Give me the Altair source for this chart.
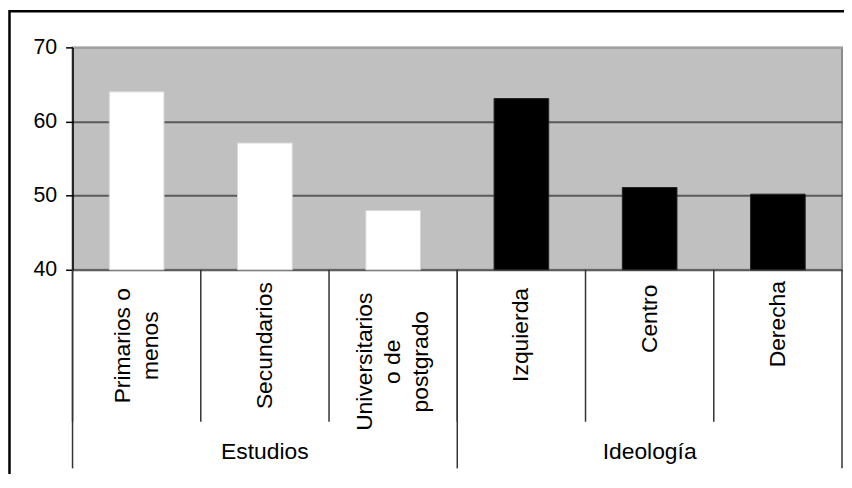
import altair as alt
import pandas as pd

# ---- data ----
categories = ["Primarios o menos", "Secundarios", "Universitarios o de postgrado",
              "Izquierda", "Centro", "Derecha"]
labels = ["Primarios o\nmenos", "Secundarios", "Universitarios\no de\npostgrado",
          "Izquierda", "Centro", "Derecha"]
groups = ["Estudios", "Estudios", "Estudios", "Ideología", "Ideología", "Ideología"]
values = [64.0, 57.1, 48.0, 63.1, 51.1, 50.2]
y_ticks = [40, 50, 60, 70]
group_names = ["Estudios", "Ideología"]

FONT = "Liberation Sans"
W, H = 775, 224
LINE_H = 28

df = pd.DataFrame({"cat": categories, "label": labels, "grp": groups, "val": values})

grp_members = {g: [c for c, gg in zip(categories, groups) if gg == g] for g in group_names}
df_grp_mid = pd.DataFrame({"cat": [grp_members[g][len(grp_members[g]) // 2] for g in group_names],
                           "name": group_names})
df_grp_start = pd.DataFrame({"cat": [grp_members[g][0] for g in group_names]})
df_grp_end = pd.DataFrame({"cat": [grp_members[group_names[-1]][-1]]})

xscale = alt.Scale(domain=categories, paddingInner=0, paddingOuter=0)

frame = alt.Chart(pd.DataFrame({"a": [0]})).mark_rect(
    fillOpacity=0, stroke="black", strokeWidth=2.5
).encode(x=alt.value(-63.5), x2=alt.value(900), y=alt.value(-36.5), y2=alt.value(700))

bars = alt.Chart(df).mark_bar(width=alt.RelativeBandSize(0.426), strokeWidth=1).encode(
    x=alt.X("cat:N", scale=xscale,
            axis=alt.Axis(labels=False, title=None, ticks=False, domainColor="black",
                          domainWidth=1.5, grid=False)),
    y=alt.Y("val:Q", scale=alt.Scale(domain=[40, 70], zero=False, nice=False),
            axis=alt.Axis(values=y_ticks, grid=True,
                          gridColor={"condition": {"test": "datum.value == 70", "value": "#a0a0a0"},
                                     "value": "#5a5a5a"},
                          gridWidth=2, domainColor="black", domainWidth=1.5,
                          tickColor="black", tickSize=7, tickWidth=1.5,
                          labelFontSize=21.5, labelFont=FONT, labelColor="black",
                          labelPadding=9, title=None)),
    y2=alt.datum(40),
    color=alt.Color("grp:N", scale=alt.Scale(domain=group_names, range=["white", "black"]), legend=None),
    stroke=alt.Stroke("grp:N", scale=alt.Scale(domain=group_names, range=["#d8d8d8", "#222222"]), legend=None),
)

# separators between categories (short) and between groups (long)
sep_cat = alt.Chart(df).mark_rule(color="#333333", strokeWidth=1.5).encode(
    x=alt.X("cat:N", scale=xscale, bandPosition=0, axis=None),
    y=alt.value(H), y2=alt.value(H + 153))
sep_start = alt.Chart(df_grp_start).mark_rule(color="#333333", strokeWidth=1.5).encode(
    x=alt.X("cat:N", scale=xscale, bandPosition=0, axis=None),
    y=alt.value(H), y2=alt.value(H + 200))
sep_end = alt.Chart(df_grp_end).mark_rule(color="#333333", strokeWidth=1.5).encode(
    x=alt.X("cat:N", scale=xscale, bandPosition=1, axis=None),
    y=alt.value(H), y2=alt.value(H + 200))

# category labels: one layer per line count so the block can be centred with dy
text_layers = []
for n in (1, 2, 3):
    text_layers.append(
        alt.Chart(df).transform_calculate(
            nl="length(split(datum.label, '\\n'))",
            ty="241 + 0.5 * 10.8 * max(length(split(datum.label, '\\n')[0]), "
               "length(split(datum.label, '\\n')[1] || ''), length(split(datum.label, '\\n')[2] || ''))",
        ).transform_filter(f"datum.nl == {n}").mark_text(
            angle=270, align="center", baseline="middle", lineBreak="\n", lineHeight=LINE_H,
            dy=-(n - 1) * LINE_H / 2, fontSize=23, font=FONT, color="black"
        ).encode(
            x=alt.X("cat:N", scale=xscale, axis=None),
            y=alt.Y("ty:Q", scale=None, axis=None),
            text="label:N")
    )

grp_text = alt.Chart(df_grp_mid).mark_text(fontSize=23, font=FONT, color="black",
                                           baseline="middle", align="center").encode(
    x=alt.X("cat:N", scale=xscale, axis=None),
    y=alt.value(408),
    text="name:N")

chart = alt.layer(frame, bars, sep_cat, sep_start, sep_end, *text_layers, grp_text).resolve_scale(
    y="independent"
).properties(
    width=W, height=H,
    autosize=alt.AutoSizeParams(type="none"),
    padding={"left": 65, "top": 38, "right": 2, "bottom": 204},
).configure_view(fill="#C0C0C0", stroke="#8a8a8a", strokeWidth=2)

chart.save("out.html", embed_options={"renderer": "svg", "actions": False})
